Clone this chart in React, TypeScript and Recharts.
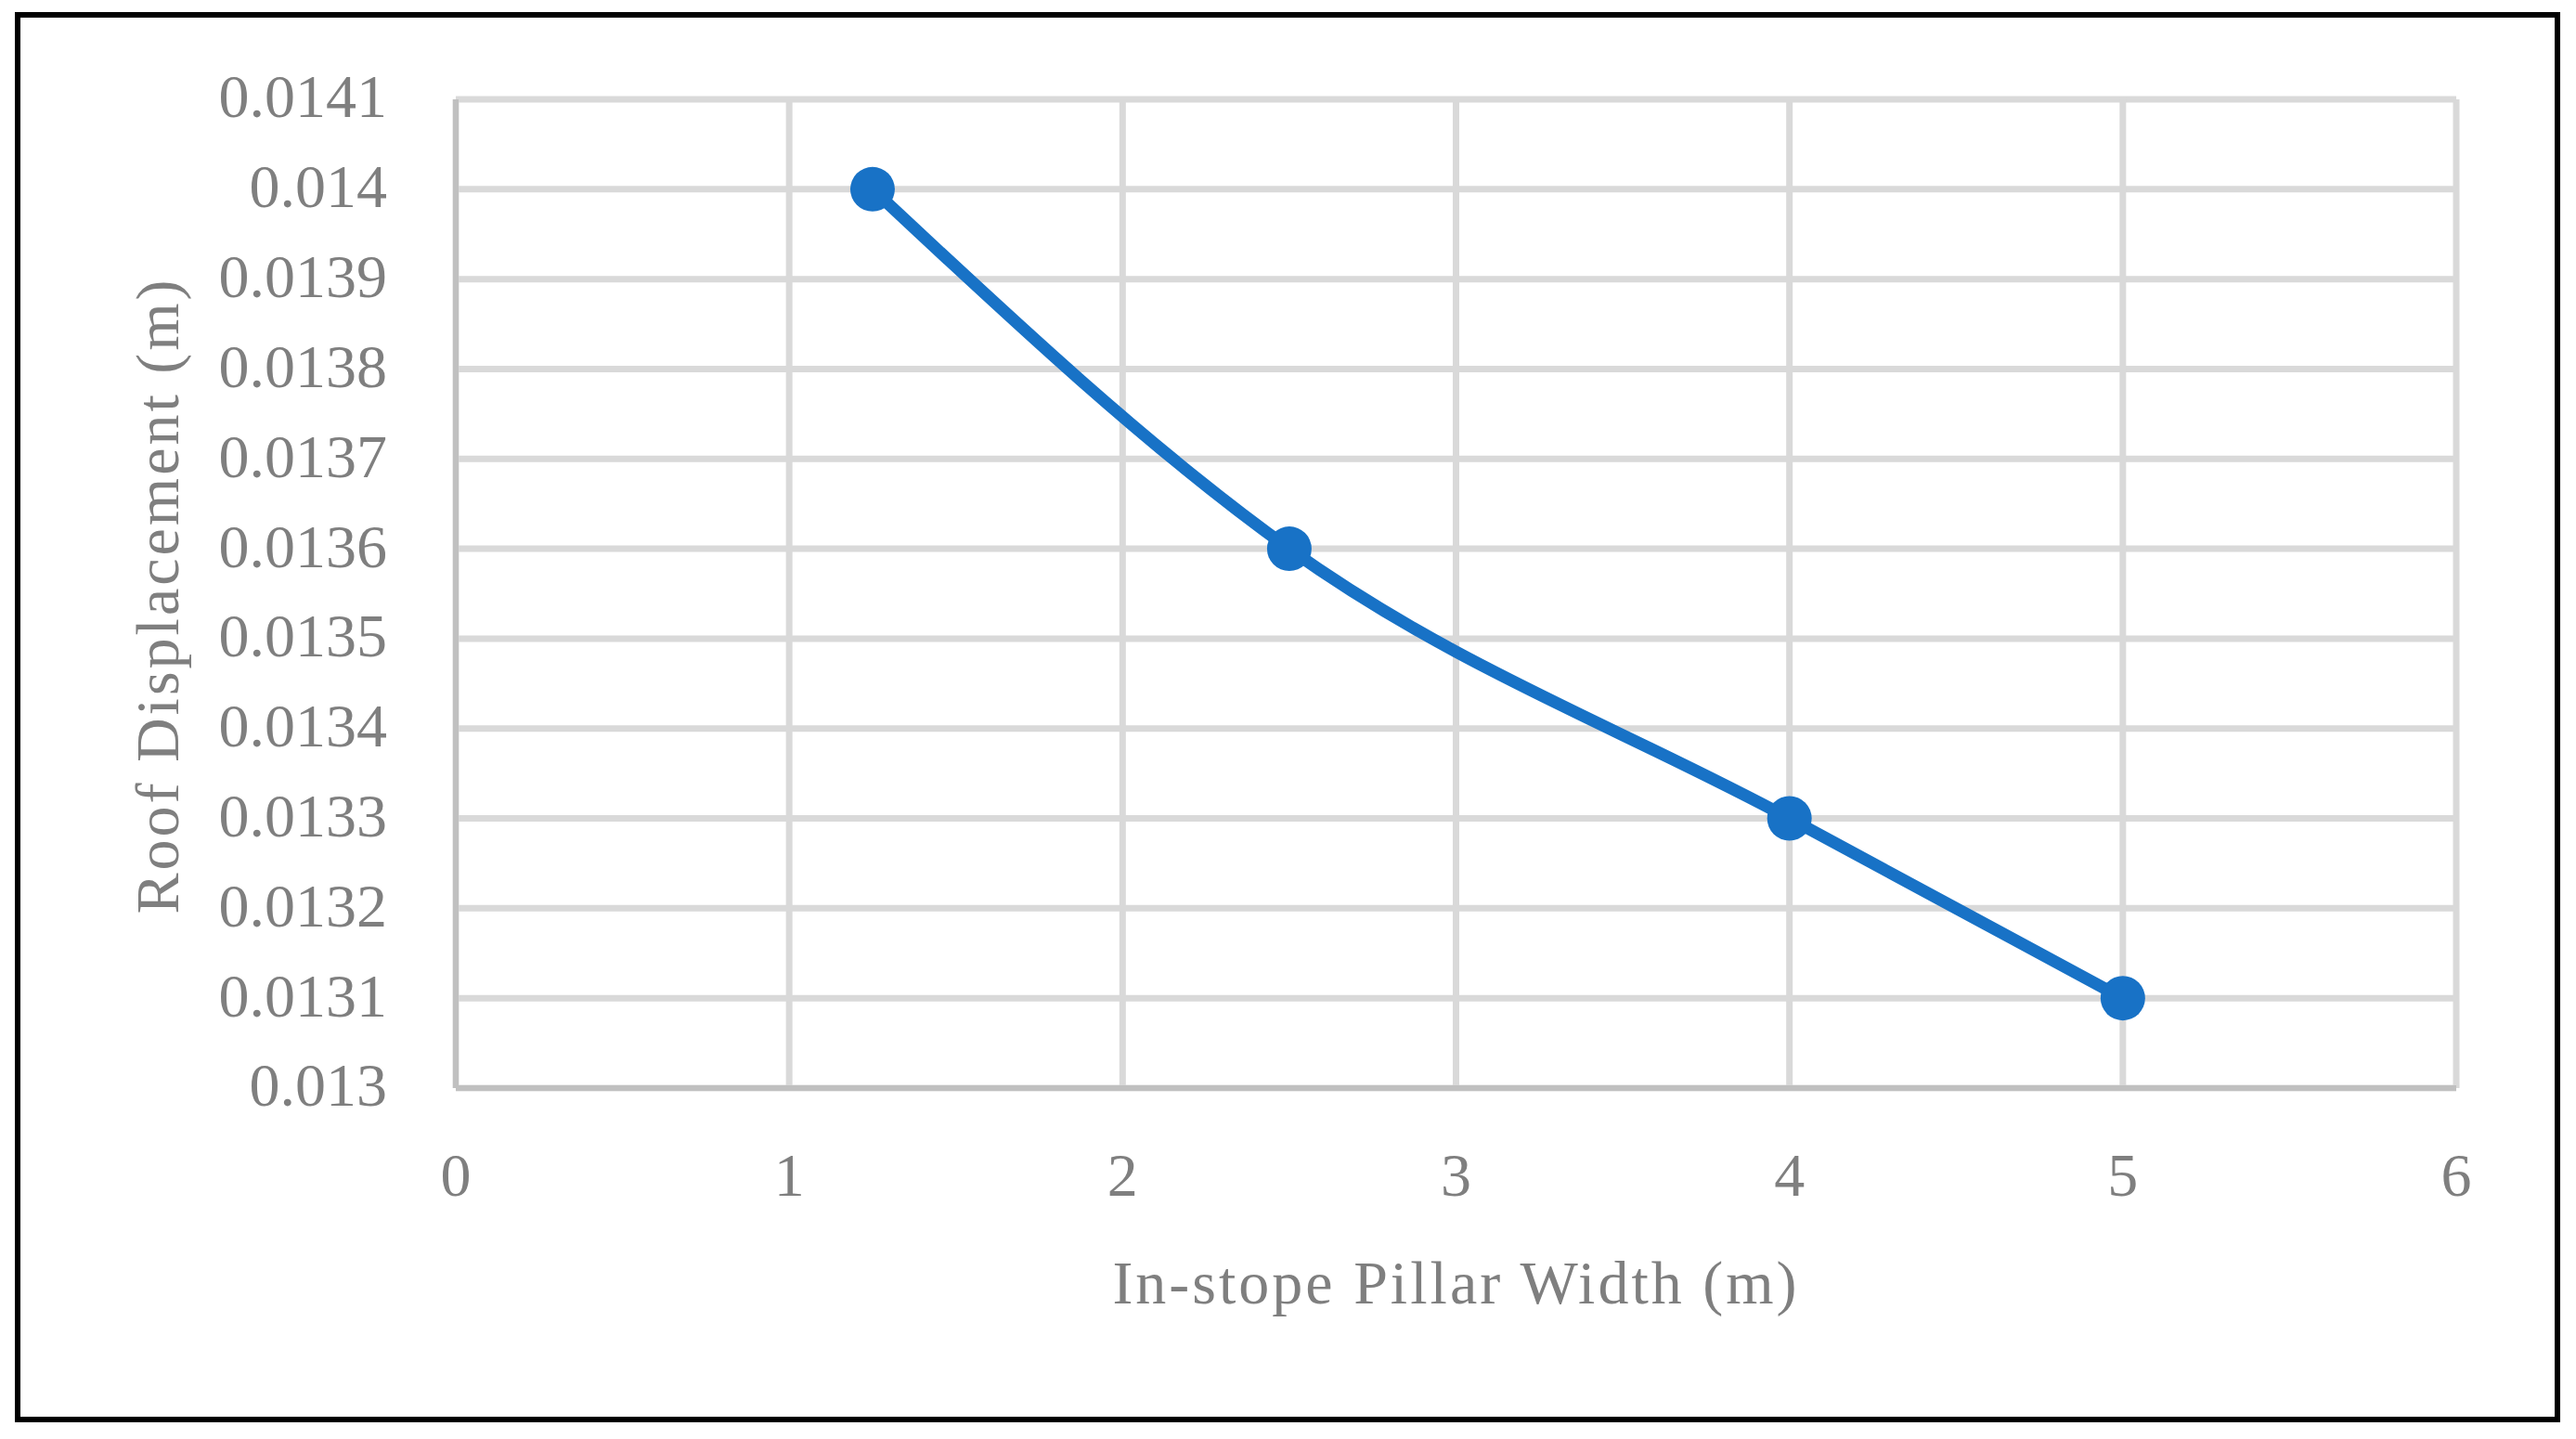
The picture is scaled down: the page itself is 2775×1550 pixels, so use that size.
import { CartesianGrid, Label, Line, LineChart, XAxis, YAxis } from "recharts";

const pillarWidth = [1.25, 2.5, 4, 5];
const roofDisplacement = [0.014, 0.0136, 0.0133, 0.0131];
const xTicks = [0, 1, 2, 3, 4, 5, 6];
const yTicks = [
  0.013, 0.0131, 0.0132, 0.0133, 0.0134, 0.0135, 0.0136, 0.0137, 0.0138,
  0.0139, 0.014, 0.0141,
];

const xTitle = "In-stope Pillar Width (m)";
const yTitle = "Roof Displacement (m)";

const FONT = "'Liberation Serif', 'Times New Roman', serif";
const TEXT = "#7f7f7f";
const BLUE = "#1872c6";

const data = pillarWidth.map((w, i) => ({ w, d: roofDisplacement[i] }));

function XTitle({ viewBox }: { viewBox?: any }) {
  if (!viewBox) return null;
  return (
    <text
      x={viewBox.x + viewBox.width / 2}
      y={viewBox.y + 232}
      textAnchor="middle"
      fontFamily={FONT}
      fontSize={66}
      letterSpacing={3}
      fill={TEXT}
    >
      {xTitle}
    </text>
  );
}

function YTitle({ viewBox }: { viewBox?: any }) {
  if (!viewBox) return null;
  const x = viewBox.x + 192;
  const y = viewBox.y + viewBox.height / 2 + 2;
  return (
    <text
      x={x}
      y={y}
      transform={`rotate(-90 ${x} ${y})`}
      textAnchor="middle"
      fontFamily={FONT}
      fontSize={66}
      letterSpacing={3}
      fill={TEXT}
    >
      {yTitle}
    </text>
  );
}

export default function App() {
  const tick = { fill: TEXT, fontSize: 66, fontFamily: FONT };
  return (
    <div
      style={{
        position: "absolute",
        left: 0,
        top: 0,
        width: 2775,
        height: 1550,
        background: "#fff",
      }}
    >
      {/* black frame round the figure */}
      <div
        style={{
          position: "absolute",
          left: 16,
          top: 13,
          width: 2742,
          height: 1519,
          boxSizing: "border-box",
          border: "6px solid #000",
        }}
      />
      <div style={{ position: "absolute", left: 0, top: 0 }}>
        <LineChart
          width={2775}
          height={1550}
          data={data}
          margin={{ top: 107, right: 129, left: 0, bottom: 0 }}
        >
          <CartesianGrid stroke="#d9d9d9" strokeWidth={7} />
          <XAxis
            type="number"
            dataKey="w"
            domain={[0, 6]}
            ticks={xTicks}
            height={378}
            tick={tick}
            tickLine={false}
            tickSize={0}
            tickMargin={69}
            axisLine={{ stroke: "#c0c0c0", strokeWidth: 6 }}
            allowDecimals
          >
            <Label content={<XTitle />} />
          </XAxis>
          <YAxis
            type="number"
            domain={[0.013, 0.0141]}
            ticks={yTicks}
            width={491}
            tick={{ ...tick, dy: -4 }}
            tickLine={false}
            tickSize={0}
            tickMargin={74}
            tickFormatter={(v: number) => String(v)}
            axisLine={{ stroke: "#c0c0c0", strokeWidth: 6 }}
            allowDataOverflow
          >
            <Label content={<YTitle />} />
          </YAxis>
          <Line
            type="monotone"
            dataKey="d"
            stroke={BLUE}
            strokeWidth={13}
            dot={{ r: 24, fill: BLUE, stroke: BLUE, strokeWidth: 0 }}
            activeDot={false}
            isAnimationActive={false}
          />
        </LineChart>
      </div>
    </div>
  );
}
